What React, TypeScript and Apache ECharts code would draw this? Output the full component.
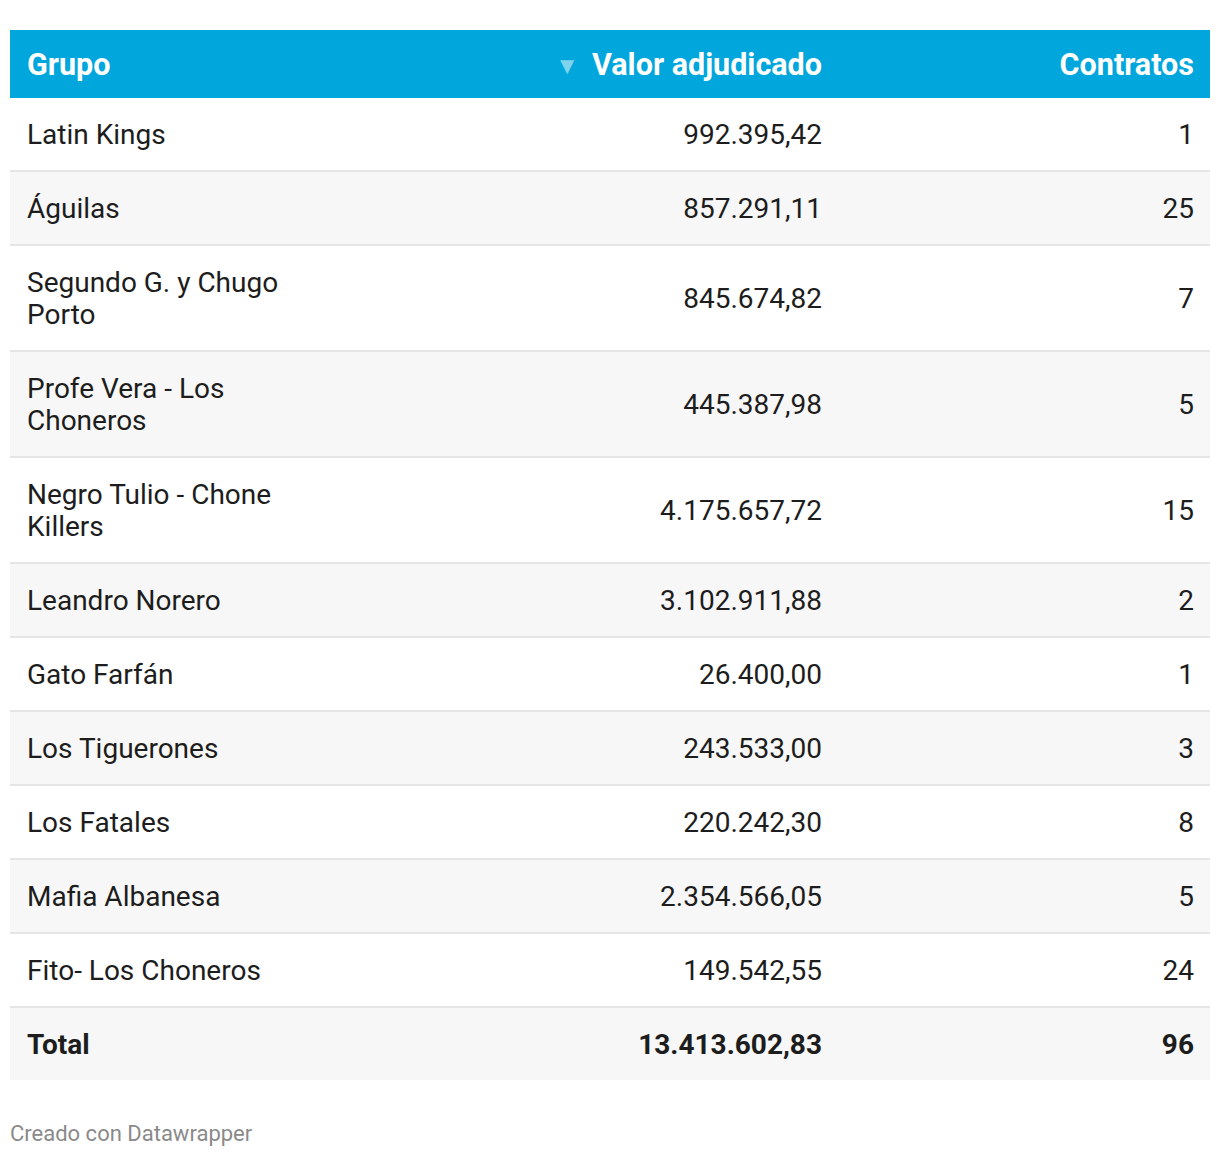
import React, { useEffect, useRef } from "react";
import * as echarts from "echarts";

const columns = ["Grupo", "Valor adjudicado", "Contratos"];
const groups = [
  "Latin Kings",
  "Águilas",
  "Segundo G. y Chugo Porto",
  "Profe Vera - Los Choneros",
  "Negro Tulio - Chone Killers",
  "Leandro Norero",
  "Gato Farfán",
  "Los Tiguerones",
  "Los Fatales",
  "Mafia Albanesa",
  "Fito- Los Choneros",
];
const values = [
  "992.395,42",
  "857.291,11",
  "845.674,82",
  "445.387,98",
  "4.175.657,72",
  "3.102.911,88",
  "26.400,00",
  "243.533,00",
  "220.242,30",
  "2.354.566,05",
  "149.542,55",
];
const contracts = ["1", "25", "7", "5", "15", "2", "1", "3", "8", "5", "24"];
const totalLabel = "Total";
const totalValue = "13.413.602,83";
const totalContracts = "96";
const footer = "Creado con Datawrapper";

const FONT = "Roboto, 'Noto Sans', sans-serif";

export default function App() {
  const ref = useRef<HTMLDivElement>(null);
  useEffect(() => {
    if (!ref.current) return;
    const chart = echarts.init(ref.current, null, { renderer: "svg" });
    const left = 10;
    const right = 1210;
    const textX = 27;
    const valX = 822;
    const cntX = 1194;
    const fs = 28;
    const hfs = 30.5;
    const elements: any[] = [];
    // header
    elements.push({
      type: "rect",
      shape: { x: left, y: 30, width: right - left, height: 68 },
      style: { fill: "#01a6dd" },
    });
    const hy = 64;
    elements.push({
      type: "text",
      x: textX,
      y: hy,
      style: { text: columns[0], font: `bold ${hfs}px ${FONT}`, fill: "#ffffff", textAlign: "left", textVerticalAlign: "middle" },
    });
    elements.push({
      type: "text",
      x: valX,
      y: hy,
      style: { text: columns[1], font: `bold ${hfs}px ${FONT}`, fill: "#ffffff", textAlign: "right", textVerticalAlign: "middle" },
    });
    elements.push({
      type: "text",
      x: 579,
      y: hy + 2,
      style: { text: "▼", font: `24px ${FONT}`, fill: "#80d3ee", textAlign: "right", textVerticalAlign: "middle" },
    });
    elements.push({
      type: "text",
      x: cntX,
      y: hy,
      style: { text: columns[2], font: `bold ${hfs}px ${FONT}`, fill: "#ffffff", textAlign: "right", textVerticalAlign: "middle" },
    });

    const wrapW = 290;
    const canvas = document.createElement("canvas");
    const ctx = canvas.getContext("2d")!;
    ctx.font = `${fs}px ${FONT}`;
    const lineCount = (t: string) => {
      const words = t.split(" ");
      let lines = 1;
      let cur = "";
      for (const w of words) {
        const test = cur ? cur + " " + w : w;
        if (ctx.measureText(test).width > wrapW && cur) {
          lines++;
          cur = w;
        } else cur = test;
      }
      return lines;
    };

    let y = 98;
    const rows = groups.map((g, i) => ({ g, v: values[i], c: contracts[i], bold: false }));
    rows.push({ g: totalLabel, v: totalValue, c: totalContracts, bold: true });
    rows.forEach((r, i) => {
      const n = r.bold ? 1 : lineCount(r.g);
      const h = n === 1 ? 72 : 104;
      if (i % 2 === 1) {
        elements.push({
          type: "rect",
          shape: { x: left, y, width: right - left, height: h },
          style: { fill: "#f7f7f7" },
        });
      }
      const cy = y + h / 2;
      const font = `${r.bold ? "bold " : ""}${fs}px ${FONT}`;
      elements.push({
        type: "text",
        x: textX,
        y: cy,
        style: {
          text: r.g,
          font,
          fill: "#1d1d1d",
          textAlign: "left",
          textVerticalAlign: "middle",
          width: wrapW,
          overflow: "break",
          lineHeight: 32,
        },
      });
      elements.push({
        type: "text",
        x: valX,
        y: cy,
        style: { text: r.v, font, fill: "#1d1d1d", textAlign: "right", textVerticalAlign: "middle" },
      });
      elements.push({
        type: "text",
        x: cntX,
        y: cy,
        style: { text: r.c, font, fill: "#1d1d1d", textAlign: "right", textVerticalAlign: "middle" },
      });
      y += h;
      if (i < rows.length - 1) {
        elements.push({
          type: "rect",
          shape: { x: left, y, width: right - left, height: 2 },
          style: { fill: "#e5e5e5" },
        });
        y += 2;
      }
    });

    elements.push({
      type: "text",
      x: 10,
      y: 1133,
      style: { text: footer, font: `22px ${FONT}`, fill: "#8a8a8a", textAlign: "left", textVerticalAlign: "middle" },
    });

    chart.setOption({
      animation: false,
      backgroundColor: "#ffffff",
      graphic: { elements },
    });
    return () => chart.dispose();
  }, []);
  return (
    <div
      ref={ref}
      style={{ position: "absolute", left: 0, top: 0, width: 1220, height: 1156 }}
    />
  );
}
